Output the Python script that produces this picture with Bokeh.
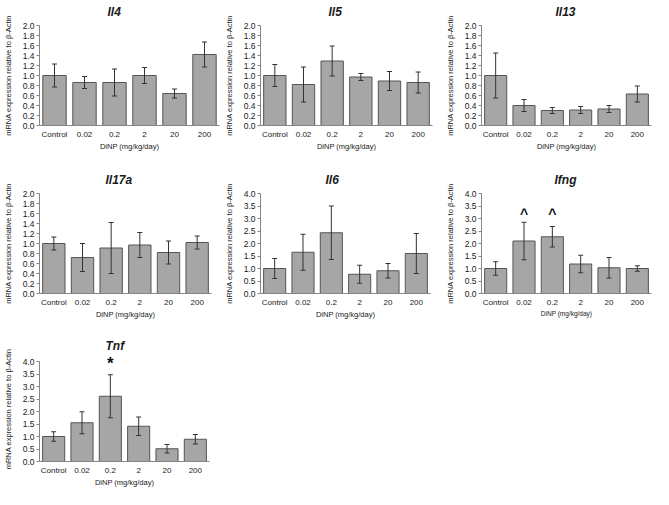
from bokeh.plotting import figure
from bokeh.models import (ColumnDataSource, Range1d, FixedTicker, NumeralTickFormatter,
                          Whisker, TeeHead, Label)
from bokeh.layouts import column, row
from bokeh.embed import file_html
from bokeh.resources import INLINE

# ---------------- data ----------------
doses = ["Control", "0.02", "0.2", "2", "20", "200"]
x_title = "DiNP (mg/kg/day)"
y_title = "mRNA expression relative to \u03b2-Actin"

ticks_2 = [0.0, 0.2, 0.4, 0.6, 0.8, 1.0, 1.2, 1.4, 1.6, 1.8, 2.0]
ticks_4 = [0.0, 0.5, 1.0, 1.5, 2.0, 2.5, 3.0, 3.5, 4.0]

il4_mean = [1.00, 0.86, 0.86, 1.00, 0.64, 1.42]
il4_err = [0.23, 0.12, 0.27, 0.16, 0.09, 0.25]

il5_mean = [1.00, 0.82, 1.29, 0.97, 0.89, 0.86]
il5_err = [0.22, 0.35, 0.30, 0.07, 0.19, 0.21]

il13_mean = [1.00, 0.40, 0.30, 0.31, 0.33, 0.63]
il13_err = [0.45, 0.12, 0.06, 0.07, 0.07, 0.16]

il17a_mean = [1.00, 0.72, 0.91, 0.97, 0.82, 1.02]
il17a_err = [0.13, 0.28, 0.51, 0.25, 0.23, 0.13]

il6_mean = [1.00, 1.65, 2.43, 0.77, 0.91, 1.60]
il6_err = [0.40, 0.72, 1.07, 0.36, 0.29, 0.80]

ifng_mean = [1.00, 2.10, 2.27, 1.18, 1.03, 1.00]
ifng_err = [0.27, 0.75, 0.41, 0.35, 0.41, 0.11]
ifng_marks = ["", "^", "^", "", "", ""]

tnf_mean = [1.00, 1.55, 2.61, 1.41, 0.51, 0.89]
tnf_err = [0.19, 0.44, 0.86, 0.37, 0.17, 0.19]
tnf_marks = ["", "", "*", "", "", ""]

# ---------------- style ----------------
FONT = "Liberation Sans"
BAR_FILL = "#a6a6a6"
BAR_LINE = "#555555"
AXIS_COL = "#868686"
TEXT_COL = "#1a1a1a"
TOP = 23
FH = 102


def panel(title, mean, err, ymax, ticks, w, h, off, fw, t_off,
          marks=None, mark_y=None, mark_size="14px", xlab_size="7.5px",
          headroom=0.0, t_standoff=9):
    # headroom: extra (invisible) frame space above the last tick for the marks
    fh = int(round(FH * (ymax + headroom) / ymax))
    top = TOP - (fh - FH)
    p = figure(x_range=doses, y_range=Range1d(0, ymax + headroom), width=w, height=h,
               output_backend="svg", toolbar_location=None,
               min_border_left=off, min_border_right=w - off - fw,
               min_border_top=top, min_border_bottom=h - TOP - FH)
    p.title.text = title
    p.title.text_font = FONT
    p.title.text_font_style = "bold italic"
    p.title.text_font_size = "12px"
    p.title.text_color = TEXT_COL
    p.title.align = "left"
    p.title.vertical_align = "top"
    p.title.offset = t_off
    p.title.standoff = t_standoff

    lower = [m - e for m, e in zip(mean, err)]
    upper = [m + e for m, e in zip(mean, err)]
    src = ColumnDataSource(dict(dose=doses, mean=mean, lower=lower, upper=upper))

    p.vbar(x="dose", top="mean", width=0.78, source=src,
           fill_color=BAR_FILL, line_color=BAR_LINE, line_width=1)
    wh = Whisker(base="dose", upper="upper", lower="lower", source=src,
                 line_color="#333333", line_width=1, level="overlay",
                 upper_head=TeeHead(size=5, line_color="#333333", line_width=1),
                 lower_head=TeeHead(size=5, line_color="#333333", line_width=1))
    p.add_layout(wh)

    if marks is not None:
        for i, m in enumerate(marks):
            if m:
                # synthetic categorical coordinate: centre of factor i
                p.add_layout(Label(x=i + 0.5, y=mark_y, text=m,
                                   text_align="center", text_baseline="middle",
                                   text_font=FONT, text_font_size=mark_size,
                                   text_font_style="bold", text_color="#111111",
                                   level="overlay"))

    p.xgrid.grid_line_color = None
    p.ygrid.grid_line_color = None
    p.outline_line_color = None
    p.background_fill_color = None
    p.border_fill_color = None

    p.yaxis.bounds = (0, ymax)
    p.yaxis.ticker = FixedTicker(ticks=ticks)
    p.yaxis.formatter = NumeralTickFormatter(format="0.0")
    p.yaxis.major_tick_out = 3
    p.yaxis.major_tick_in = 0
    p.yaxis.minor_tick_line_color = None
    p.yaxis.major_label_standoff = 2
    p.yaxis.axis_label = y_title
    p.yaxis.axis_label_standoff = 7
    p.yaxis.axis_label_text_font_size = "7.5px"
    p.yaxis.axis_label_text_font_style = "normal"

    p.xaxis.major_tick_out = 0
    p.xaxis.major_tick_in = 0
    p.xaxis.major_label_standoff = 4
    p.xaxis.axis_label = x_title
    p.xaxis.axis_label_standoff = 0
    p.xaxis.axis_label_text_font_size = xlab_size
    p.xaxis.axis_label_text_font_style = "normal"

    for ax in (p.xaxis, p.yaxis):
        ax.axis_line_color = AXIS_COL
        ax.major_label_text_font = FONT
        ax.major_label_text_font_size = "8.5px"
        ax.major_label_text_color = TEXT_COL
        ax.axis_label_text_font = FONT
        ax.axis_label_text_color = TEXT_COL
    p.yaxis.major_tick_line_color = AXIS_COL
    p.xaxis.major_tick_line_color = None
    p.xaxis.major_label_text_font_size = "8px"
    return p


p1 = panel("Il4", il4_mean, il4_err, 2.0, ticks_2, 221, 168, 37, 182, 68)
p2 = panel("Il5", il5_mean, il5_err, 2.0, ticks_2, 221, 168, 35, 176, 68)
p3 = panel("Il13", il13_mean, il13_err, 2.0, ticks_2, 211, 168, 33, 176, 74)
p4 = panel("Il17a", il17a_mean, il17a_err, 2.0, ticks_2, 221, 168, 34, 177, 66)
p5 = panel("Il6", il6_mean, il6_err, 4.0, ticks_4, 221, 168, 34, 175, 65)
p6 = panel("Ifng", ifng_mean, ifng_err, 4.0, ticks_4, 211, 168, 34, 175, 73,
           marks=ifng_marks, mark_y=3.2, xlab_size="6.5px")
p7 = panel("Tnf", tnf_mean, tnf_err, 4.0, ticks_4, 221, 153, 36, 173, 66,
           marks=tnf_marks, mark_y=3.92, mark_size="17px",
           headroom=0.2, t_standoff=4)

layout = column(row(p1, p2, p3), row(p4, p5, p6), row(p7))

open("out.html", "w").write(file_html(layout, INLINE))
